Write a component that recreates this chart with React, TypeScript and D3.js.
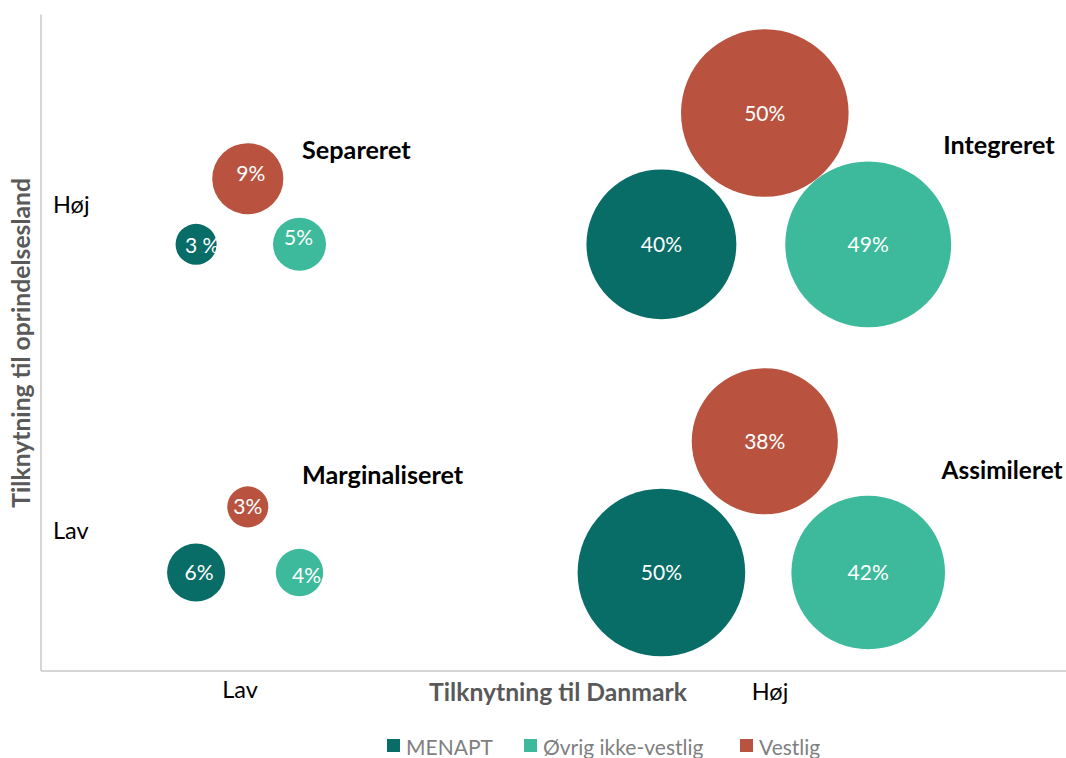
import React from 'react'
import * as d3 from 'd3'

// groups of origin (series)
const seriesNames = ['MENAPT', 'Øvrig ikke-vestlig', 'Vestlig']
const seriesColors = ['#086c67', '#3cba9b', '#b9533f']

// bubble positions in chart units (Excel bubble chart, hidden axes 0-20)
const menaptX = [3, 12, 3, 12]
const menaptY = [13, 13, 3, 3]
const menaptVal = [3, 40, 6, 50]

const oevrigX = [5, 16, 5, 16]
const oevrigY = [13, 13, 3, 3]
const oevrigVal = [5, 49, 4, 42]

const vestligX = [4, 14, 4, 14]
const vestligY = [15, 17, 5, 7]
const vestligVal = [9, 50, 3, 38]

const quadrantNames = ['Separeret', 'Integreret', 'Marginaliseret', 'Assimileret']
const quadrantX = [5.05, 17.45, 5.05, 17.42]
const quadrantY = [15.6, 15.75, 5.7, 5.85]

const xTickLabels = ['Lav', 'Høj']
const yTickLabels = ['Høj', 'Lav']

const App = () => {
  const width = 1066
  const height = 758
  const margin = {top: 14.6, left: 41, bottom: 87}
  const plotW = 1034 // plot runs past the right edge, like the cropped original
  const plotH = height - margin.top - margin.bottom

  const x = d3.scaleLinear().domain([0, 20]).range([margin.left, margin.left + plotW])
  const y = d3.scaleLinear().domain([0, 20]).range([margin.top + plotH, margin.top])
  const r = d3.scaleSqrt().domain([0, 50]).range([0, 83.8])

  const series = [
    {xs: menaptX, ys: menaptY, vals: menaptVal},
    {xs: oevrigX, ys: oevrigY, vals: oevrigVal},
    {xs: vestligX, ys: vestligY, vals: vestligVal},
  ]

  // small manual label nudges, as in the original
  const nudge = (s, i) => {
    if (s === 0 && i === 0) return [6, 1]
    if (s === 0 && i === 2) return [3, 0]
    if (s === 1 && i === 0) return [-1, -7]
    if (s === 1 && i === 2) return [7, 3]
    if (s === 2 && i === 0) return [3, -5]
    return [0, 0]
  }
  const label = (s, i, v) => (s === 0 && i === 0 ? `${v} %` : `${v}%`)

  const font = 'Lato, "Open Sans", sans-serif'
  const y0 = y(0)

  const legendX = [387, 524, 740]

  return (
    <svg width={width} height={height} style={{position: 'absolute', left: 0, top: 0}} fontFamily={font}>
      <rect width={width} height={height} fill="#fff" />

      {/* axes lines */}
      <line x1={x(0)} x2={x(0)} y1={y(20)} y2={y0} stroke="#c9c9c9" strokeWidth={1.5} />
      <line x1={x(0)} x2={width} y1={y0} y2={y0} stroke="#c9c9c9" strokeWidth={1.5} />

      {/* bubbles */}
      {series.map((s, si) =>
        s.vals.map((v, i) => (
          <circle key={`c${si}-${i}`} cx={x(s.xs[i])} cy={y(s.ys[i])} r={r(v)} fill={seriesColors[si]} />
        ))
      )}
      {series.map((s, si) =>
        s.vals.map((v, i) => {
          const [dx, dy] = nudge(si, i)
          return (
            <text key={`t${si}-${i}`} x={x(s.xs[i]) + dx} y={y(s.ys[i]) + dy} dy="0.36em"
              textAnchor="middle" fill="#fff" fontSize={21}>
              {label(si, i, v)}
            </text>
          )
        })
      )}

      {/* quadrant names */}
      {quadrantNames.map((q, i) => (
        <text key={q} x={x(quadrantX[i])} y={y(quadrantY[i])} fontSize={i === 3 ? 24.4 : 25.2}
          fontWeight="bold" fill="#000">{q}</text>
      ))}

      {/* category labels */}
      <text x={53} y={213} fontSize={23.5} fill="#000">{yTickLabels[0]}</text>
      <text x={53} y={539} fontSize={23.5} fill="#000">{yTickLabels[1]}</text>
      <text x={240} y={698} fontSize={23.5} fill="#000" textAnchor="middle">{xTickLabels[0]}</text>
      <text x={770} y={700} fontSize={23.5} fill="#000" textAnchor="middle">{xTickLabels[1]}</text>

      {/* axis titles */}
      <text x={margin.left + plotW / 2} y={701} textAnchor="middle" fontSize={24.7} fontWeight="bold" fill="#595959">
        Tilknytning til Danmark
      </text>
      <text transform={`translate(30, ${margin.top + plotH / 2}) rotate(-90)`} textAnchor="middle"
        fontSize={24.7} fontWeight="bold" fill="#595959">
        Tilknytning til oprindelsesland
      </text>

      {/* legend */}
      {seriesNames.map((n, i) => (
        <g key={n} transform={`translate(${legendX[i]}, 0)`}>
          <rect x={0} y={739} width={13} height={13} fill={seriesColors[i]} />
          <text x={19} y={755} fontSize={21} fill="#7f7f7f">{n}</text>
        </g>
      ))}
    </svg>
  )
}

export default App
